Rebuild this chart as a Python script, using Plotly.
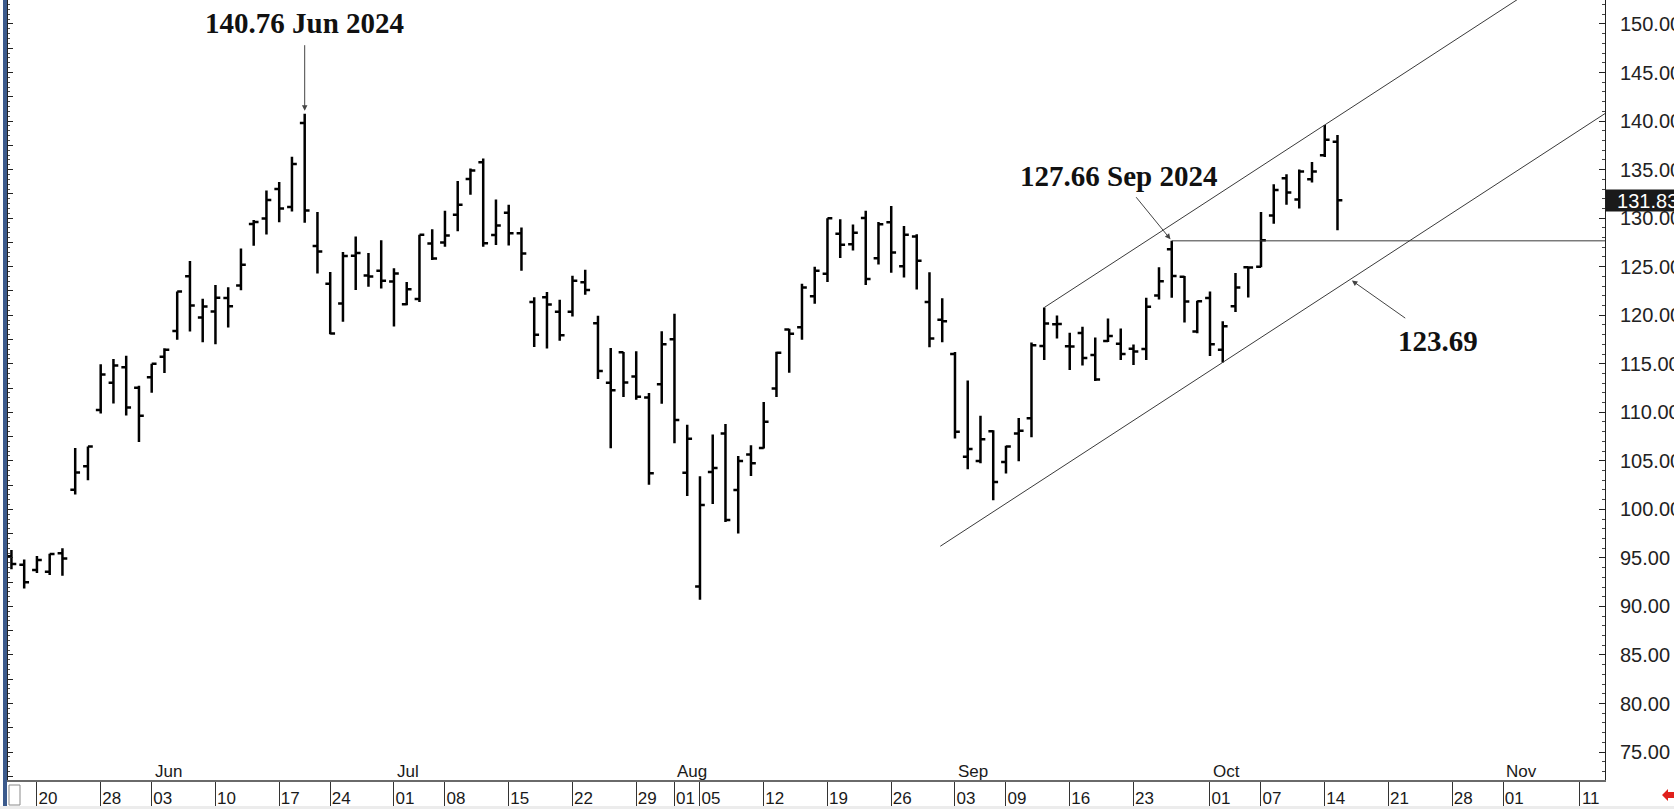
import plotly.graph_objects as go

# ---------------- data ----------------
dates = [
    "2024-05-16", "2024-05-17", "2024-05-20", "2024-05-21", "2024-05-22", "2024-05-23", "2024-05-24",
    "2024-05-28", "2024-05-29", "2024-05-30", "2024-05-31",
    "2024-06-03", "2024-06-04", "2024-06-05", "2024-06-06", "2024-06-07",
    "2024-06-10", "2024-06-11", "2024-06-12", "2024-06-13", "2024-06-14",
    "2024-06-17", "2024-06-18", "2024-06-20", "2024-06-21",
    "2024-06-24", "2024-06-25", "2024-06-26", "2024-06-27", "2024-06-28",
    "2024-07-01", "2024-07-02", "2024-07-03", "2024-07-05",
    "2024-07-08", "2024-07-09", "2024-07-10", "2024-07-11", "2024-07-12",
    "2024-07-15", "2024-07-16", "2024-07-17", "2024-07-18", "2024-07-19",
    "2024-07-22", "2024-07-23", "2024-07-24", "2024-07-25", "2024-07-26",
    "2024-07-29", "2024-07-30", "2024-07-31", "2024-08-01", "2024-08-02",
    "2024-08-05", "2024-08-06", "2024-08-07", "2024-08-08", "2024-08-09",
    "2024-08-12", "2024-08-13", "2024-08-14", "2024-08-15", "2024-08-16",
    "2024-08-19", "2024-08-20", "2024-08-21", "2024-08-22", "2024-08-23",
    "2024-08-26", "2024-08-27", "2024-08-28", "2024-08-29", "2024-08-30",
    "2024-09-03", "2024-09-04", "2024-09-05", "2024-09-06",
    "2024-09-09", "2024-09-10", "2024-09-11", "2024-09-12", "2024-09-13",
    "2024-09-16", "2024-09-17", "2024-09-18", "2024-09-19", "2024-09-20",
    "2024-09-23", "2024-09-24", "2024-09-25", "2024-09-26", "2024-09-27",
    "2024-09-30", "2024-10-01", "2024-10-02", "2024-10-03", "2024-10-04",
    "2024-10-07", "2024-10-08", "2024-10-09", "2024-10-10", "2024-10-11",
    "2024-10-14", "2024-10-15",
]
opens = [
    95.18, 94.30, 93.75, 93.56, 95.47, 102.03, 104.45,
    110.24, 113.05, 114.65, 112.52,
    113.62, 115.72, 118.37, 124.00, 119.77,
    120.37, 121.77, 123.06, 129.39, 129.96,
    132.99, 131.14, 139.80, 127.12,
    123.24, 121.20, 126.13, 124.10, 124.58,
    123.47, 121.13, 121.66, 127.38,
    127.49, 130.35, 134.03, 135.75, 128.26,
    130.56, 128.44, 121.35, 121.85, 120.35,
    120.35, 123.40, 119.17, 113.04, 116.19,
    113.69, 111.52, 112.90, 117.53, 103.76,
    92.06, 103.84, 107.81, 102.00, 105.64,
    106.32, 112.44, 118.53, 118.76, 121.94,
    124.28, 128.40, 127.32, 130.02, 125.86,
    129.57, 125.05, 128.12, 121.36, 119.53,
    116.01, 105.41, 104.99, 108.04,
    104.88, 107.81, 109.39, 116.84, 119.08,
    116.79, 118.17, 115.89, 117.35, 117.06,
    116.55, 116.52, 122.02, 126.80, 123.97,
    118.31, 121.77, 116.44, 120.92, 124.94,
    124.99, 130.26, 134.11, 131.91, 134.01,
    136.47, 137.87,
]
highs = [
    95.82, 94.84, 95.20, 95.42, 96.00, 106.32, 106.48,
    114.94, 115.49, 115.82, 112.72,
    115.00, 116.60, 122.45, 125.59, 121.69,
    123.10, 122.87, 126.88, 129.80, 132.84,
    133.73, 136.33, 140.76, 130.63,
    124.46, 126.50, 128.12, 126.41, 127.71,
    124.84, 123.41, 128.28, 128.85,
    130.77, 133.82, 135.10, 136.15, 131.92,
    131.39, 129.04, 121.85, 122.40, 121.60,
    124.07, 124.69, 119.95, 116.63, 116.20,
    116.28, 111.99, 118.34, 120.16, 108.72,
    103.41, 107.71, 108.80, 105.50, 106.60,
    111.07, 116.23, 118.60, 123.24, 125.00,
    130.00, 129.88, 129.35, 130.75, 129.60,
    131.26, 129.20, 128.33, 124.43, 121.75,
    116.21, 113.27, 109.65, 108.15,
    106.55, 109.40, 117.19, 120.79, 119.96,
    118.18, 118.80, 117.70, 119.66, 118.62,
    116.99, 121.80, 124.94, 127.66, 124.03,
    121.50, 122.44, 119.38, 124.36, 125.04,
    130.64, 133.48, 134.52, 135.00, 135.78,
    139.60, 138.57,
]
lows = [
    93.84, 91.85, 93.44, 93.23, 93.17, 101.52, 103.00,
    109.88, 110.90, 109.66, 106.94,
    112.00, 114.04, 117.47, 118.32, 117.22,
    117.01, 118.74, 122.57, 127.16, 128.32,
    129.58, 130.69, 129.52, 124.30,
    118.04, 119.32, 122.60, 122.92, 122.75,
    118.83, 121.03, 121.36, 125.68,
    127.04, 128.65, 132.42, 127.05, 127.22,
    127.18, 124.58, 116.72, 116.56, 117.37,
    119.86, 122.10, 113.44, 106.30, 111.58,
    111.30, 102.54, 110.88, 106.81, 101.37,
    90.69, 100.55, 98.69, 97.52, 103.43,
    106.26, 111.58, 114.07, 117.47, 121.18,
    123.42, 125.89, 126.66, 123.10, 125.22,
    124.37, 123.88, 122.64, 116.71, 117.22,
    107.29, 104.12, 104.76, 100.95,
    103.69, 104.95, 107.42, 115.38, 117.60,
    114.36, 114.83, 113.22, 117.25, 115.39,
    114.86, 115.38, 121.61, 121.80, 119.26,
    118.15, 115.79, 115.14, 120.34, 121.83,
    124.95, 129.42, 131.38, 131.00, 133.66,
    136.30, 128.74,
]
closes = [
    94.36, 92.48, 94.78, 95.39, 94.95, 103.80, 106.47,
    113.90, 114.83, 110.50, 109.63,
    115.00, 116.44, 122.44, 121.00, 120.89,
    121.79, 120.91, 125.20, 129.61, 131.88,
    130.98, 135.58, 130.78, 126.57,
    118.11, 126.09, 126.40, 123.99, 123.54,
    124.30, 122.67, 128.28, 125.83,
    128.20, 131.38, 134.91, 127.40, 129.24,
    128.44, 126.36, 117.99, 121.09, 117.93,
    123.54, 122.59, 114.25, 112.28, 113.06,
    111.59, 103.73, 117.02, 109.21, 107.27,
    100.45, 104.25, 98.91, 104.97, 104.75,
    109.02, 116.14, 118.08, 122.86, 124.58,
    130.00, 127.25, 128.50, 123.74, 129.37,
    126.46, 128.30, 125.61, 117.59, 119.37,
    108.00, 106.21, 107.21, 102.83,
    106.47, 108.10, 116.91, 119.14, 119.10,
    116.78, 115.59, 113.37, 117.87, 116.00,
    116.26, 120.87, 123.51, 124.04, 121.40,
    121.44, 117.00, 118.85, 122.85, 124.92,
    127.72, 132.89, 132.65, 134.81, 134.80,
    138.07, 131.83,
]
future_days = [
    "2024-10-16", "2024-10-17", "2024-10-18", "2024-10-21", "2024-10-22", "2024-10-23",
    "2024-10-24", "2024-10-25", "2024-10-28", "2024-10-29", "2024-10-30", "2024-10-31",
    "2024-11-01", "2024-11-04", "2024-11-05", "2024-11-06", "2024-11-07", "2024-11-08",
    "2024-11-11", "2024-11-12", "2024-11-13",
]
tick_dates = [
    "2024-05-20", "2024-05-28", "2024-06-03", "2024-06-10", "2024-06-17", "2024-06-24",
    "2024-07-01", "2024-07-08", "2024-07-15", "2024-07-22", "2024-07-29", "2024-08-01",
    "2024-08-05", "2024-08-12", "2024-08-19", "2024-08-26", "2024-09-03", "2024-09-09",
    "2024-09-16", "2024-09-23", "2024-10-01", "2024-10-07", "2024-10-14", "2024-10-21",
    "2024-10-28", "2024-11-01", "2024-11-11",
]
tick_labels = [d[-2:] for d in tick_dates]
month_starts = ["2024-06-03", "2024-07-01", "2024-08-01", "2024-09-03", "2024-10-01", "2024-11-01"]
month_names = ["Jun", "Jul", "Aug", "Sep", "Oct", "Nov"]

peak_date, peak_value, peak_text = "2024-06-20", 140.76, "140.76 Jun 2024"
swing_date, swing_value, swing_text = "2024-09-26", 127.66, "127.66 Sep 2024"
upper_a = ("2024-09-12", 120.79)
upper_b = ("2024-10-14", 139.60)
lower_anchor = ("2024-10-02", 115.14)
lower_start_value = 96.2
target_date, target_value, target_text = "2024-10-16", 123.69, "123.69"
last_price = 131.83

# ---------------- build ----------------
all_days = dates + future_days
pos = {d: i for i, d in enumerate(all_days)}
xs = [pos[d] for d in dates]
x_min, x_max = -0.27, 124.98
y_min, y_max = 72.12, 152.47
x_end = x_max + 1

fig = go.Figure()
bar_line = dict(color="#000000", width=2.5)
fig.add_trace(go.Ohlc(
    x=xs, open=opens, high=highs, low=lows, close=closes,
    increasing=dict(line=bar_line), decreasing=dict(line=bar_line),
    tickwidth=0.38, showlegend=False, hoverinfo="skip",
))

slope = (upper_b[1] - upper_a[1]) / (pos[upper_b[0]] - pos[upper_a[0]])
ux0 = pos[upper_a[0]]
fig.add_trace(go.Scatter(
    x=[ux0, x_end], y=[upper_a[1], upper_a[1] + slope * (x_end - ux0)],
    mode="lines", line=dict(color="#3a3a3a", width=1), showlegend=False, hoverinfo="skip"))
lx_a = pos[lower_anchor[0]]
lx0 = lx_a - (lower_anchor[1] - lower_start_value) / slope
fig.add_trace(go.Scatter(
    x=[lx0, x_end], y=[lower_start_value, lower_anchor[1] + slope * (x_end - lx_a)],
    mode="lines", line=dict(color="#3a3a3a", width=1), showlegend=False, hoverinfo="skip"))
fig.add_trace(go.Scatter(
    x=[pos[swing_date], x_end], y=[swing_value, swing_value],
    mode="lines", line=dict(color="#3a3a3a", width=1), showlegend=False, hoverinfo="skip"))
# carrier for the left tick axis
fig.add_trace(go.Scatter(x=[None], y=[None], yaxis="y2", showlegend=False, hoverinfo="skip"))

label_font = dict(family="Liberation Serif", size=29, color="#111111", weight="bold")
arrow_style = dict(showarrow=True, arrowhead=2, arrowsize=1.1, arrowwidth=1, arrowcolor="#444444",
                   xref="x", yref="y", font=label_font)
annotations = [
    dict(x=pos[peak_date], y=peak_value, text=peak_text, ax=0, ay=-91,
         standoff=3, startstandoff=5, **arrow_style),
    dict(x=pos[swing_date], y=swing_value, text=swing_text, ax=-53, ay=-65,
         standoff=2, startstandoff=5, **arrow_style),
    dict(x=pos[target_date], y=target_value, text=target_text, ax=88, ay=62,
         standoff=2, startstandoff=10, **arrow_style),
    dict(xref="paper", x=1, yref="y", y=last_price, xanchor="left", yanchor="middle",
         text="\u00a0\u00a0" + f"{last_price:.2f}", showarrow=False, bgcolor="#1a1a1a",
         font=dict(family="Liberation Sans", size=20, color="#ffffff"),
         width=72, height=21, align="left", borderpad=0),
]
for d, name in zip(month_starts, month_names):
    annotations.append(dict(x=pos[d], y=0, xref="x", yref="paper", text=name, showarrow=False,
                            xanchor="left", yanchor="bottom", xshift=1, yshift=-3,
                            font=dict(family="Liberation Sans", size=17, color="#1a1a1a")))

W, H = 1674, 809
ml, mr, mt, mb = 8, 69, 0, 29
pw, ph = W - ml - mr, H - mt - mb


def px(xp):
    return (xp - ml) / pw


def py(yp):
    return (H - mb - yp) / ph


shapes = [
    # left window frame stripe
    dict(type="rect", xref="paper", yref="paper", x0=px(3), x1=px(7), y0=py(806), y1=py(-2),
         fillcolor="#3b5a8c", line=dict(width=0), layer="above"),
    # bottom grey strip
    dict(type="rect", xref="paper", yref="paper", x0=px(0), x1=px(W + 2), y0=py(H + 2), y1=py(806),
         fillcolor="#ececec", line=dict(width=0)),
    # small checkbox bottom-left
    dict(type="rect", xref="paper", yref="paper", x0=px(9), x1=px(20), y0=py(805), y1=py(785),
         fillcolor="#ffffff", line=dict(color="#8a8a8a", width=1)),
    # red arrow bottom-right
    dict(type="path", xref="paper", yref="paper",
         path=(f"M {px(1662)},{py(795)} L {px(1668)},{py(789)} L {px(1668)},{py(792)} "
               f"L {px(1676)},{py(792)} L {px(1676)},{py(798)} L {px(1668)},{py(798)} "
               f"L {px(1668)},{py(801)} Z"),
         fillcolor="#e0201c", line=dict(width=0)),
]

fig.update_layout(
    width=W, height=H, margin=dict(l=ml, r=mr, t=mt, b=mb, pad=0),
    paper_bgcolor="#ffffff", plot_bgcolor="#ffffff",
    font=dict(family="Liberation Sans", color="#1a1a1a"),
    showlegend=False, annotations=annotations, shapes=shapes,
    xaxis=dict(range=[x_min, x_max], rangeslider=dict(visible=False), showgrid=False, zeroline=False,
               tickmode="array", tickvals=[pos[d] for d in tick_dates], ticktext=tick_labels,
               ticks="outside", ticklen=24, tickwidth=1, tickcolor="#333333",
               ticklabelstandoff=-22, ticklabelshift=11,
               tickfont=dict(family="Liberation Sans", size=17, color="#1a1a1a"),
               showline=True, linecolor="#6a6a6a", linewidth=2, automargin=False, fixedrange=True),
    yaxis=dict(range=[y_min, y_max], side="right", showgrid=False, zeroline=False,
               tickmode="linear", tick0=75, dtick=5, tickformat=".2f",
               ticks="inside", ticklen=6, tickwidth=1, tickcolor="#222222",
               minor=dict(ticks="inside", dtick=1, ticklen=3, tickcolor="#444444"),
               tickfont=dict(family="Liberation Sans", size=20, color="#222222"),
               ticklabelstandoff=10,
               showline=True, linecolor="#222222", linewidth=1, automargin=False, fixedrange=True),
    yaxis2=dict(range=[y_min, y_max], overlaying="y", side="left", showgrid=False, zeroline=False,
                tickmode="linear", tick0=75, dtick=2.5, showticklabels=False,
                ticks="inside", ticklen=5, tickwidth=1, tickcolor="#222222",
                minor=dict(ticks="inside", dtick=0.5, ticklen=2, tickcolor="#555555"),
                showline=True, linecolor="#222222", linewidth=1, automargin=False, fixedrange=True),
)

fig.write_html("out.html")
